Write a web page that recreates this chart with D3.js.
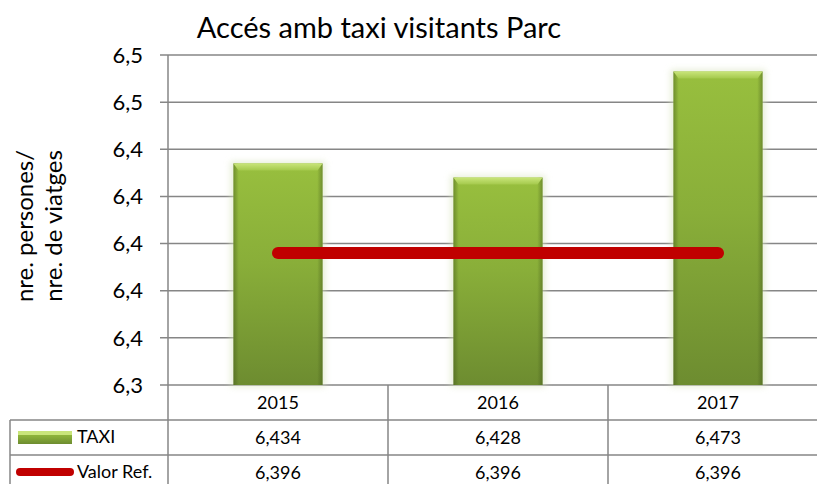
<!DOCTYPE html>
<html><head><meta charset="utf-8">
<script src="https://cdn.jsdelivr.net/npm/d3@7"></script>
<style>
body{margin:0;background:#fff;}
svg{display:block;font-family:"Lato","Open Sans",sans-serif;}
</style></head>
<body><svg id="c" width="817" height="484"></svg>
<script>
const title = "Accés amb taxi visitants Parc";
const yTitle = ["nre. persones/", "nre. de viatges"];
const years = ["2015", "2016", "2017"];
const taxi = [6.434, 6.428, 6.473];
const refVal = [6.396, 6.396, 6.396];
const taxiLabels = ["6,434", "6,428", "6,473"];
const refLabels = ["6,396", "6,396", "6,396"];
const tickValues = [6.34, 6.36, 6.38, 6.40, 6.42, 6.44, 6.46, 6.48];
const tickLabels = ["6,3", "6,4", "6,4", "6,4", "6,4", "6,4", "6,5", "6,5"];
const seriesNames = ["TAXI", "Valor Ref."];

const svg = d3.select("#c");
const L = 168, R = 828, T = 55, B = 385;
const x = d3.scaleBand().domain(years).range([L, R]).padding(0);
const y = d3.scaleLinear().domain([6.34, 6.48]).range([B, T]);
const grid = "#868686";

const defs = svg.append("defs");
const gv = defs.append("linearGradient").attr("id","gv").attr("x1",0).attr("y1",0).attr("x2",0).attr("y2",1);
gv.append("stop").attr("offset","0%").attr("stop-color","#98bf3e");
gv.append("stop").attr("offset","45%").attr("stop-color","#89ae39");
gv.append("stop").attr("offset","100%").attr("stop-color","#6d8c30");
const gh = defs.append("linearGradient").attr("id","gh").attr("x1",0).attr("y1",0).attr("x2",1).attr("y2",0);
gh.append("stop").attr("offset","0%").attr("stop-color","#3f5418").attr("stop-opacity",0.45);
gh.append("stop").attr("offset","6%").attr("stop-color","#3f5418").attr("stop-opacity",0);
gh.append("stop").attr("offset","94%").attr("stop-color","#3f5418").attr("stop-opacity",0);
gh.append("stop").attr("offset","100%").attr("stop-color","#3f5418").attr("stop-opacity",0.45);
const gt = defs.append("linearGradient").attr("id","gt").attr("x1",0).attr("y1",0).attr("x2",0).attr("y2",1);
gt.append("stop").attr("offset","0%").attr("stop-color","#c9e57a");
gt.append("stop").attr("offset","100%").attr("stop-color","#a4c94c");
const fl = defs.append("filter").attr("id","glow").attr("x","-20%").attr("y","-10%").attr("width","140%").attr("height","120%");
fl.append("feGaussianBlur").attr("stdDeviation",3);

// gridlines
svg.append("g").selectAll("line").data(tickValues).join("line")
  .attr("x1", L - 8).attr("x2", R).attr("y1", d => y(d)).attr("y2", d => y(d))
  .attr("stroke", grid).attr("stroke-width", 1.5);

// axis line
svg.append("line").attr("x1", L).attr("x2", L).attr("y1", T).attr("y2", 484)
  .attr("stroke", grid).attr("stroke-width", 1.5);

// y tick labels
svg.append("g").selectAll("text").data(tickValues).join("text")
  .attr("x", 143).attr("y", d => y(d)).attr("dy", "0.35em")
  .attr("text-anchor", "end").attr("font-size", 22).attr("fill", "#000")
  .text((d, i) => tickLabels[i]);

// bars
const bw = x.bandwidth() * 0.405;
const bars = svg.append("g").selectAll("g").data(years).join("g");
bars.append("rect").attr("x", d => x(d) + x.bandwidth()/2 - bw/2 - 3).attr("width", bw + 6)
  .attr("y", (d, i) => y(taxi[i]) - 2).attr("height", (d, i) => B - y(taxi[i]) + 4)
  .attr("fill", "#d8e3c0").attr("opacity", 0.6).attr("filter", "url(#glow)");
bars.append("rect").attr("x", d => x(d) + x.bandwidth()/2 - bw/2).attr("width", bw)
  .attr("y", (d, i) => y(taxi[i])).attr("height", (d, i) => B - y(taxi[i]))
  .attr("fill", "url(#gv)");
bars.append("rect").attr("x", d => x(d) + x.bandwidth()/2 - bw/2).attr("width", bw)
  .attr("y", (d, i) => y(taxi[i])).attr("height", (d, i) => B - y(taxi[i]))
  .attr("fill", "url(#gh)");
bars.append("path").attr("d", (d, i) => {
  const x0 = x(d) + x.bandwidth()/2 - bw/2, x1 = x0 + bw, yt = y(taxi[i]);
  return `M${x0},${yt}L${x1},${yt}L${x1-5},${yt+7}L${x0+5},${yt+7}Z`;
}).attr("fill", "url(#gt)");

// reference line
const line = d3.line().x((d, i) => x(years[i]) + x.bandwidth()/2).y(d => y(d));
svg.append("path").datum(refVal).attr("d", line).attr("fill", "none")
  .attr("stroke", "#c00000").attr("stroke-width", 12).attr("stroke-linecap", "round");

// title
svg.append("text").attr("x", 379).attr("y", 38).attr("text-anchor", "middle")
  .attr("font-size", 29).attr("fill", "#000").text(title);

// y axis title
const yt = svg.append("text").attr("transform", "translate(0,226) rotate(-90)")
  .attr("text-anchor", "middle").attr("font-size", 24).attr("fill", "#000");
yt.append("tspan").attr("x", 0).attr("y", 33).text(yTitle[0]);
yt.append("tspan").attr("x", 0).attr("y", 62).text(yTitle[1]);

// data table
const rowY = [385, 420, 455, 490];
const tbl = svg.append("g").attr("stroke", grid).attr("stroke-width", 1.5);
tbl.append("line").attr("x1", 10).attr("x2", R).attr("y1", rowY[1]).attr("y2", rowY[1]);
tbl.append("line").attr("x1", 10).attr("x2", R).attr("y1", rowY[2]).attr("y2", rowY[2]);
tbl.append("line").attr("x1", 10).attr("x2", 10).attr("y1", rowY[1]).attr("y2", 490);
tbl.selectAll("line.col").data(years.slice(1)).join("line").attr("class", "col")
  .attr("x1", d => x(d)).attr("x2", d => x(d)).attr("y1", B).attr("y2", 490);

const cx = d => x(d) + x.bandwidth()/2;
svg.append("g").selectAll("text").data(years).join("text")
  .attr("x", cx).attr("y", 403).attr("dy", "0.35em").attr("text-anchor", "middle")
  .attr("font-size", 18).text(d => d);
svg.append("g").selectAll("text").data(years).join("text")
  .attr("x", cx).attr("y", 438).attr("dy", "0.35em").attr("text-anchor", "middle")
  .attr("font-size", 18).text((d, i) => taxiLabels[i]);
svg.append("g").selectAll("text").data(years).join("text")
  .attr("x", cx).attr("y", 473).attr("dy", "0.35em").attr("text-anchor", "middle")
  .attr("font-size", 18).text((d, i) => refLabels[i]);

// legend keys
svg.append("rect").attr("x", 18).attr("y", 431).attr("width", 54).attr("height", 13).attr("fill", "url(#gv)");
svg.append("rect").attr("x", 18).attr("y", 431).attr("width", 54).attr("height", 4).attr("fill", "#c9e57a");
svg.append("line").attr("x1", 20).attr("x2", 70).attr("y1", 472).attr("y2", 472)
  .attr("stroke", "#c00000").attr("stroke-width", 8).attr("stroke-linecap", "round");
svg.append("text").attr("x", 77).attr("y", 437).attr("dy", "0.35em").attr("font-size", 18).text(seriesNames[0]);
svg.append("text").attr("x", 77).attr("y", 472).attr("dy", "0.35em").attr("font-size", 18).text(seriesNames[1]);
</script></body></html>
